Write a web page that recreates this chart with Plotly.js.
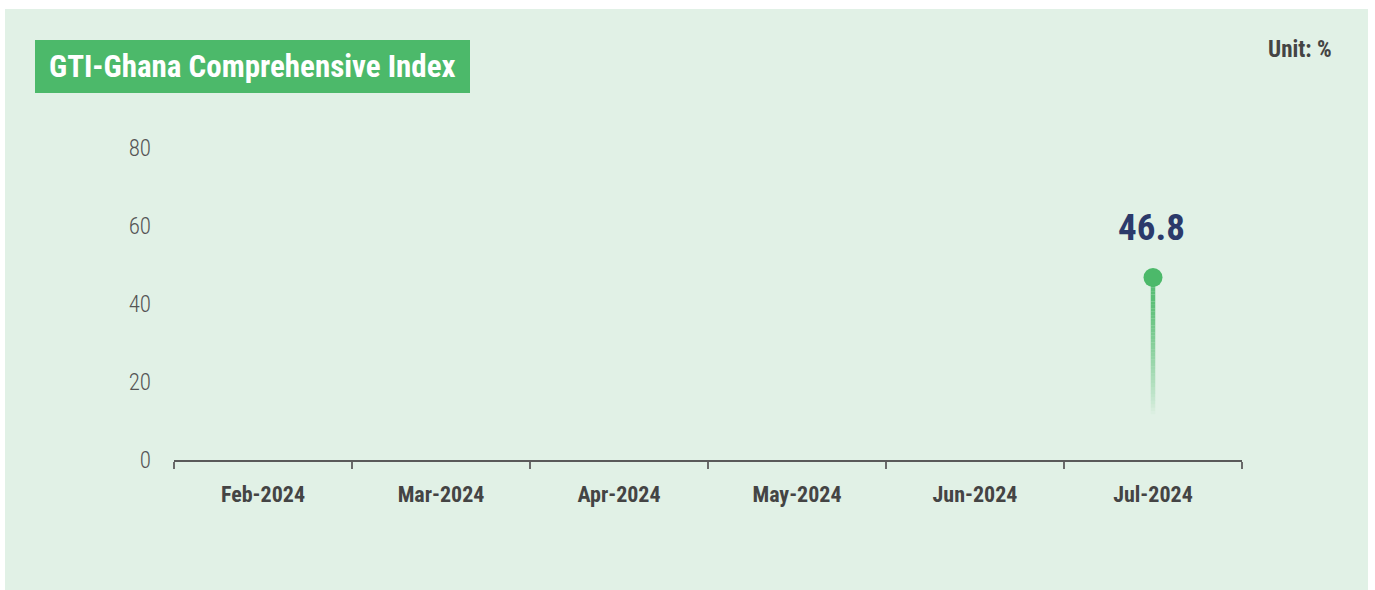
<!DOCTYPE html>
<html>
<head>
<meta charset="utf-8">
<script src="https://cdn.plot.ly/plotly-3.0.1.min.js"></script>
<style>
  html, body { margin: 0; padding: 0; background: #ffffff; width: 1375px; height: 590px; overflow: hidden; }
  #chart { position: absolute; left: 5px; top: 9px; width: 1363px; height: 581px; }
</style>
</head>
<body>
<div id="chart"></div>
<script>
// ---- data ----
const months = ["Feb-2024", "Mar-2024", "Apr-2024", "May-2024", "Jun-2024", "Jul-2024"];
const indexValues = [null, null, null, null, null, 46.8];
const yTicks = [0, 20, 40, 60, 80];
const chartTitle = "GTI-Ghana Comprehensive Index";
const unitLabel = "Unit: %";

// ---- layout constants ----
const W = 1363, H = 581;
const M = { l: 169, r: 126, t: 139, b: 130 };
const PW = W - M.l - M.r, PH = H - M.t - M.b;
const px2x = p => (p - M.l) / PW;
const py2y = p => (H - M.b - p) / PH;

const FONT = "Roboto Condensed, Roboto, sans-serif";
const GREEN = "#4cb96a";

const traces = [];

// gradient stems (fading segments) built from the data values
months.forEach((m, i) => {
  const v = indexValues[i];
  if (v === null || v === undefined) return;
  const n = 40, bottomFrac = 0.25;
  const yBottom = v * bottomFrac;
  for (let k = 0; k < n; k++) {
    const y0 = yBottom + (v - yBottom) * k / n;
    const y1 = yBottom + (v - yBottom) * (k + 1) / n;
    const t = (k + 0.5) / n;           // 0 bottom -> 1 top
    const a = Math.min(0.9, Math.pow(t, 0.8) * 1.05);
    traces.push({
      x: [m, m], y: [y0, y1], mode: "lines", type: "scatter",
      line: { color: `rgba(76,185,106,${a.toFixed(3)})`, width: 4.5 },
      hoverinfo: "skip", showlegend: false
    });
  }
});

// the points
traces.push({
  x: months, y: indexValues, type: "scatter", mode: "markers",
  marker: { color: GREEN, size: 19 },
  showlegend: false, cliponaxis: false
});

const annotations = [];
months.forEach((m, i) => {
  const v = indexValues[i];
  if (v === null || v === undefined) return;
  annotations.push({
    x: m, y: v, xref: "x", yref: "y", text: v.toFixed(1),
    showarrow: false, yanchor: "middle", yshift: 50, xshift: -2,
    font: { family: FONT, size: 37, color: "#2b3a6b", weight: 700 }
  });
});
annotations.push({
  x: px2x(247.5), y: py2y(57), xref: "paper", yref: "paper",
  text: "<b>" + chartTitle + "</b>", showarrow: false,
  xanchor: "center", yanchor: "middle",
  font: { family: FONT, size: 31, color: "#ffffff" }
});
annotations.push({
  x: px2x(1329), y: py2y(40), xref: "paper", yref: "paper",
  text: "<b>" + unitLabel + "</b>", showarrow: false,
  xanchor: "right", yanchor: "middle",
  font: { family: FONT, size: 23, color: "#444444" }
});

const layout = {
  width: W, height: H,
  margin: M,
  paper_bgcolor: "#e1f1e6",
  plot_bgcolor: "rgba(0,0,0,0)",
  showlegend: false,
  font: { family: FONT },
  shapes: [{
    type: "rect", xref: "paper", yref: "paper",
    x0: px2x(30), x1: px2x(465), y0: py2y(84), y1: py2y(31),
    fillcolor: GREEN, line: { width: 0 }, layer: "below"
  }],
  annotations: annotations,
  xaxis: {
    type: "category", categoryorder: "array", categoryarray: months,
    range: [-0.5, months.length - 0.5],
    showgrid: false, zeroline: false,
    showline: true, linecolor: "#5a5a5a", linewidth: 2,
    ticks: "outside", tickson: "boundaries", ticklen: 7, tickwidth: 1.5, tickcolor: "#6a6a6a",
    tickfont: { family: FONT, size: 22, color: "#444444", weight: 700 },
    ticklabelstandoff: 14,
    fixedrange: true
  },
  yaxis: {
    range: [0, 80], tickvals: yTicks, ticktext: yTicks.map(String),
    showgrid: false, zeroline: false, showline: false, ticks: "",
    tickfont: { family: FONT, size: 23, color: "#555555", weight: 300 },
    ticklabelstandoff: 22,
    fixedrange: true
  }
};

Plotly.newPlot("chart", traces, layout, { displayModeBar: false, staticPlot: true });
</script>
</body>
</html>
